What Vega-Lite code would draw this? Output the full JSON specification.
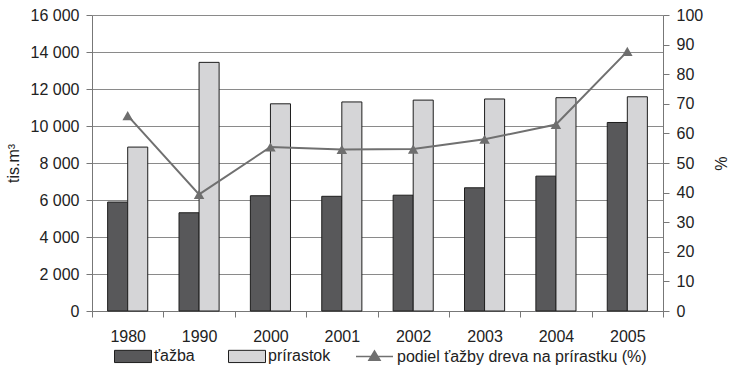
{
  "$schema": "https://vega.github.io/schema/vega-lite/v6.json",
  "autosize": {"type": "none"},
  "width": 571,
  "height": 296,
  "padding": {"left": 92, "top": 15, "right": 74, "bottom": 58},
  "background": "white",
  "config": {
    "view": {"stroke": null},
    "font": "Liberation Sans",
    "axis": {"labelFont": "Liberation Sans", "labelFontSize": 16, "labelColor": "#222", "titleFont": "Liberation Sans", "titleFontWeight": "normal", "titleColor": "#222", "domainColor": "#777", "tickColor": "#777", "gridColor": "#8a8a8a"},
    "legend": {"labelFont": "Liberation Sans", "labelFontSize": 16, "labelColor": "#222", "labelLimit": 400}
  },
  "datasets": {
    "bars": [
      {"rok": "1980", "serie": "ťažba", "hodnota": 5890},
      {"rok": "1980", "serie": "prírastok", "hodnota": 8860},
      {"rok": "1990", "serie": "ťažba", "hodnota": 5310},
      {"rok": "1990", "serie": "prírastok", "hodnota": 13440},
      {"rok": "2000", "serie": "ťažba", "hodnota": 6230},
      {"rok": "2000", "serie": "prírastok", "hodnota": 11200},
      {"rok": "2001", "serie": "ťažba", "hodnota": 6200},
      {"rok": "2001", "serie": "prírastok", "hodnota": 11300},
      {"rok": "2002", "serie": "ťažba", "hodnota": 6260},
      {"rok": "2002", "serie": "prírastok", "hodnota": 11400},
      {"rok": "2003", "serie": "ťažba", "hodnota": 6660},
      {"rok": "2003", "serie": "prírastok", "hodnota": 11460},
      {"rok": "2004", "serie": "ťažba", "hodnota": 7290},
      {"rok": "2004", "serie": "prírastok", "hodnota": 11530},
      {"rok": "2005", "serie": "ťažba", "hodnota": 10190},
      {"rok": "2005", "serie": "prírastok", "hodnota": 11580}
    ],
    "podiel": [
      {"rok": "1980", "nazov": "podiel ťažby dreva na prírastku (%)", "podiel": 66.0},
      {"rok": "1990", "nazov": "podiel ťažby dreva na prírastku (%)", "podiel": 39.4},
      {"rok": "2000", "nazov": "podiel ťažby dreva na prírastku (%)", "podiel": 55.4},
      {"rok": "2001", "nazov": "podiel ťažby dreva na prírastku (%)", "podiel": 54.6},
      {"rok": "2002", "nazov": "podiel ťažby dreva na prírastku (%)", "podiel": 54.7},
      {"rok": "2003", "nazov": "podiel ťažby dreva na prírastku (%)", "podiel": 58.0},
      {"rok": "2004", "nazov": "podiel ťažby dreva na prírastku (%)", "podiel": 63.0},
      {"rok": "2005", "nazov": "podiel ťažby dreva na prírastku (%)", "podiel": 87.7}
    ]
  },
  "layer": [
    {
      "data": {"name": "bars"},
      "mark": {"type": "bar", "stroke": "#1e1e1e", "strokeWidth": 1},
      "encoding": {
        "x": {"field": "rok", "type": "nominal", "sort": null,
              "scale": {"paddingInner": 0, "paddingOuter": 0},
              "axis": {"title": null, "labelAngle": 0, "tickBand": "extent", "tickSize": 6, "labelPadding": 11, "domainColor": "#777", "grid": false}},
        "xOffset": {"field": "serie", "type": "nominal", "sort": ["ťažba", "prírastok"],
                    "scale": {"paddingInner": 0, "paddingOuter": 0.78}},
        "y": {"field": "hodnota", "type": "quantitative",
              "scale": {"domain": [0, 16000], "nice": false},
              "axis": {"title": "tis.m³", "titleFontSize": 16, "titlePadding": 9, "values": [0, 2000, 4000, 6000, 8000, 10000, 12000, 14000, 16000],
                       "labelExpr": "replace(format(datum.value, ','), ',', ' ')", "tickSize": 6, "labelPadding": 7, "grid": true}},
        "fill": {"field": "serie", "type": "nominal",
                 "scale": {"domain": ["ťažba", "prírastok"], "range": ["#58585a", "#d5d5d7"]},
                 "legend": {"title": null, "orient": "none", "legendX": 22, "legendY": 322, "direction": "horizontal",
                            "symbolType": "M-1,-0.33 H1 V0.33 H-1 Z", "symbolSize": 1369, "symbolStrokeColor": "#1e1e1e", "symbolStrokeWidth": 1,
                            "labelOffset": 2, "columnPadding": 31}}
      }
    },
    {
      "data": {"name": "podiel"},
      "mark": {"type": "line", "strokeWidth": 2},
      "encoding": {
        "x": {"field": "rok", "type": "nominal", "sort": null},
        "y": {"field": "podiel", "type": "quantitative", "scale": {"domain": [0, 100], "nice": false},
              "axis": {"orient": "right", "title": "%", "titleFontSize": 16, "titlePadding": 9, "values": [0, 10, 20, 30, 40, 50, 60, 70, 80, 90, 100], "tickSize": 6, "labelPadding": 7, "grid": false}},
        "stroke": {"field": "nazov", "type": "nominal", "scale": {"range": ["#707070"]},
                   "legend": {"title": null, "orient": "none", "legendX": 263, "legendY": 322,
                              "symbolType": "M-1,0 H1 M-0.3,0.2 L0,-0.3 L0.3,0.2 Z", "symbolSize": 1369, "symbolStrokeWidth": 1.5,
                              "symbolFillColor": "#707070", "labelOffset": 3,
                              "encode": {"symbols": {"update": {"fill": {"value": "#707070"}}}}}}
      }
    },
    {
      "data": {"name": "podiel"},
      "mark": {"type": "point", "shape": "triangle-up", "filled": true, "size": 110, "color": "#6e6e6e", "opacity": 1},
      "encoding": {
        "x": {"field": "rok", "type": "nominal", "sort": null},
        "y": {"field": "podiel", "type": "quantitative", "scale": {"domain": [0, 100], "nice": false}, "axis": null}
      }
    }
  ],
  "resolve": {"scale": {"y": "independent"}}
}
